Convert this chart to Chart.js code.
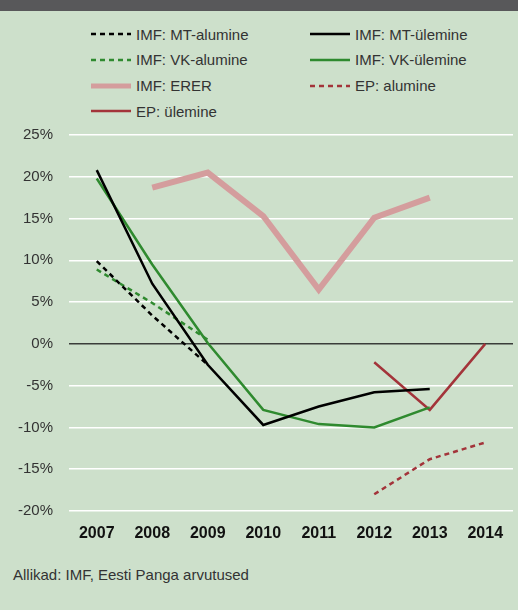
<!DOCTYPE html>
<html lang="et">
<head>
<meta charset="UTF-8">
<title>Eesti kroon / euro – tasakaalukurss</title>
<script src="https://cdn.jsdelivr.net/npm/chart.js"></script>
<style>
    body {
        margin: 0;
        width: 518px;
        height: 610px;
        background: #cde0cb;
        font-family: 'Liberation Sans', Arial, sans-serif;
        color: #333;
        position: relative;
        overflow: hidden;
    }
    .topbar {
        position: absolute;
        left: 0; top: 0;
        width: 518px; height: 11px;
        background: #58585a;
    }
    .legend-item {
        position: absolute;
        height: 20px;
        display: flex;
        align-items: center;
        font-size: 15px;
        white-space: nowrap;
    }
    .legend-item svg { margin-right: 5px; }
    .chart-box {
        position: absolute;
        left: 0; top: 110px;
        width: 518px; height: 441px;
    }
    .source {
        position: absolute;
        left: 13px; top: 566px;
        font-size: 15px;
    }
</style>
</head>
<body>
<div class="topbar"></div>
<div id="legend"></div>
<div class="chart-box"><canvas id="chart"></canvas></div>
<div class="source">Allikad: IMF, Eesti Panga arvutused</div>

<script>
    // aastad
    const years = ['2007', '2008', '2009', '2010', '2011', '2012', '2013', '2014'];

    // seeriad (%)
    const mtAlumine  = [9.9, 3.4, -2.5, null, null, null, null, null];
    const mtYlemine  = [20.8, 7.2, -2.5, -9.7, -7.5, -5.8, -5.4, null];
    const vkAlumine  = [8.9, 4.9, 0.5, null, null, null, null, null];
    const vkYlemine  = [19.8, 9.5, 0.1, -7.9, -9.6, -10.0, -7.6, null];
    const erer       = [null, 18.7, 20.5, 15.3, 6.5, 15.1, 17.5, null];
    const epAlumine  = [null, null, null, null, null, -18.0, -13.8, -11.8];
    const epYlemine  = [null, null, null, null, null, -2.2, -7.9, 0.0];

    const yTicks = [25, 20, 15, 10, 5, 0, -5, -10, -15, -20];

    const BLACK = '#000000';
    const GREEN = '#2f8a2f';
    const PINK = '#d49d9d';
    const RED = '#a3343a';
    const DASH = [5, 4];

    const series = [
        { label: 'IMF: MT-alumine', data: mtAlumine, color: BLACK, width: 2.5, dash: DASH, col: 0, row: 0 },
        { label: 'IMF: MT-ülemine', data: mtYlemine, color: BLACK, width: 2.5, dash: [], col: 1, row: 0 },
        { label: 'IMF: VK-alumine', data: vkAlumine, color: GREEN, width: 2.5, dash: DASH, col: 0, row: 1 },
        { label: 'IMF: VK-ülemine', data: vkYlemine, color: GREEN, width: 2.5, dash: [], col: 1, row: 1 },
        { label: 'IMF: ERER', data: erer, color: PINK, width: 6, dash: [], col: 0, row: 2 },
        { label: 'EP: alumine', data: epAlumine, color: RED, width: 2.5, dash: DASH, col: 1, row: 2 },
        { label: 'EP: ülemine', data: epYlemine, color: RED, width: 2.5, dash: [], col: 0, row: 3 }
    ];

    // legend (html)
    const legendEl = document.getElementById('legend');
    series.forEach(s => {
        const item = document.createElement('div');
        item.className = 'legend-item';
        item.style.left = (s.col === 0 ? 91 : 310) + 'px';
        item.style.top = (24 + s.row * 25.8) + 'px';
        const dashAttr = s.dash.length ? `stroke-dasharray="${s.dash.join(',')}"` : '';
        item.innerHTML = `<svg width="40" height="10"><line x1="0" y1="5" x2="40" y2="5" stroke="${s.color}" stroke-width="${s.width === 6 ? 5 : 2.5}" ${dashAttr}/></svg>${s.label}`;
        legendEl.appendChild(item);
    });

    const ctx = document.getElementById('chart').getContext('2d');
    new Chart(ctx, {
        type: 'line',
        data: {
            labels: years,
            datasets: series.map((s, i) => ({
                label: s.label,
                data: s.data,
                borderColor: s.color,
                backgroundColor: s.color,
                borderWidth: s.width,
                borderDash: s.dash,
                pointRadius: 0,
                tension: 0,
                spanGaps: false,
                order: s.color === PINK ? 10 : i
            }))
        },
        options: {
            responsive: true,
            maintainAspectRatio: false,
            animation: false,
            layout: { padding: { top: 4, right: 5, left: 0, bottom: 0 } },
            plugins: {
                legend: { display: false },
                tooltip: { enabled: false }
            },
            scales: {
                x: {
                    offset: true,
                    grid: { display: false },
                    border: { display: false },
                    ticks: {
                        color: '#111',
                        padding: 5,
                        font: { family: "'Liberation Sans', Arial, sans-serif", size: 16, weight: 'bold' }
                    },
                    afterFit: scale => { scale.height = 40; }
                },
                y: {
                    min: -20,
                    max: 25,
                    afterBuildTicks: scale => { scale.ticks = yTicks.map(v => ({ value: v })); },
                    grid: {
                        drawTicks: false,
                        color: c => (c.tick && c.tick.value === 0) ? '#3a3d3a' : '#ffffff',
                        lineWidth: c => (c.tick && c.tick.value === 0) ? 1.6 : 1.5
                    },
                    border: { display: false },
                    ticks: {
                        color: '#333',
                        padding: 16,
                        font: { family: "'Liberation Sans', Arial, sans-serif", size: 15 },
                        callback: v => v + '%'
                    },
                    afterFit: scale => { scale.width = 69; }
                }
            }
        }
    });
</script>
</body>
</html>
